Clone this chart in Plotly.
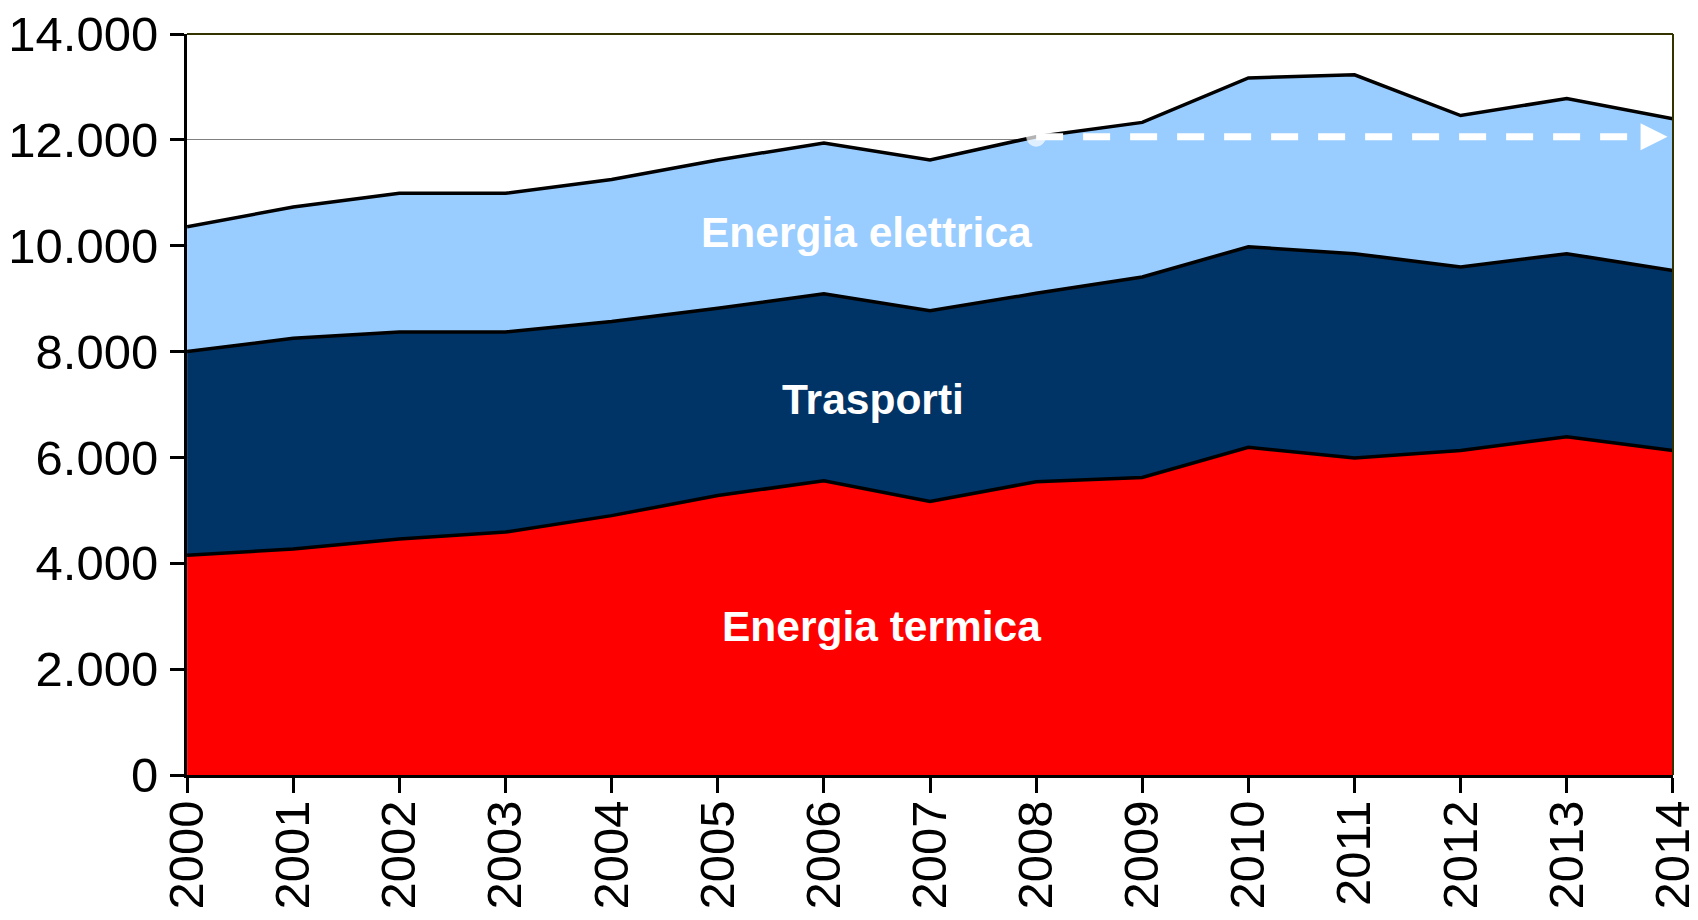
import plotly.graph_objects as go

# Consumi per settore
anni = list(range(2000, 2015))
energia_termica = [4150, 4270, 4460, 4590, 4900, 5280, 5560, 5170, 5540, 5620, 6190, 5990, 6130, 6390, 6130]
trasporti = [3850, 3980, 3910, 3780, 3670, 3540, 3530, 3600, 3560, 3790, 3790, 3860, 3470, 3460, 3400]
energia_elettrica = [2360, 2480, 2620, 2620, 2680, 2800, 2850, 2850, 2960, 2920, 3190, 3380, 2860, 2930, 2870]

y_ticks = list(range(0, 14001, 2000))
anno_riferimento = 2008

FONT = "Liberation Sans, Arial, sans-serif"

serie = [
    ("Energia termica", energia_termica, "#FF0000"),
    ("Trasporti", trasporti, "#003366"),
    ("Energia elettrica", energia_elettrica, "#99CCFF"),
]

fig = go.Figure()
for nome, valori, colore in serie:
    fig.add_trace(go.Scatter(
        x=anni, y=valori, name=nome, mode="lines",
        stackgroup="uno", fillcolor=colore,
        line=dict(color="black", width=3.5),
        showlegend=False, hoverinfo="x+y+name",
    ))

# livello totale nel 2008, proiettato fino all'ultimo anno
idx = anni.index(anno_riferimento)
totale_rif = energia_termica[idx] + trasporti[idx] + energia_elettrica[idx]

fig.add_trace(go.Scatter(
    x=[anno_riferimento, anni[-1] - 0.2], y=[totale_rif, totale_rif],
    mode="lines+markers",
    line=dict(color="white", width=7, dash="27px,20px"),
    marker=dict(size=[19, 0], color="white", symbol="circle"),
    showlegend=False, hoverinfo="skip", cliponaxis=False,
))

fig.add_annotation(
    x=anni[-1] - 0.05, y=totale_rif, ax=anni[-1] - 0.3, ay=totale_rif,
    xref="x", yref="y", axref="x", ayref="y",
    text="", showarrow=True, arrowhead=2, arrowsize=0.9,
    arrowwidth=6, arrowcolor="white",
)

# etichette delle aree
etichette = [
    ("Energia elettrica", 2006.40, 10245),
    ("Trasporti", 2006.46, 7100),
    ("Energia termica", 2006.54, 2815),
]
for testo, xa, ya in etichette:
    fig.add_annotation(
        x=xa, y=ya, text="<b>" + testo + "</b>", showarrow=False,
        font=dict(family=FONT, size=42.5, color="white"),
    )

# cornice superiore e destra
fig.add_shape(type="line", xref="paper", yref="paper", x0=0, x1=1, y0=1, y1=1,
              line=dict(color="#333300", width=2), layer="above")
fig.add_shape(type="line", xref="paper", yref="paper", x0=1, x1=1, y0=0, y1=1,
              line=dict(color="#333300", width=2), layer="above")

# la pagina ha 8px di margine: la figura e' ridotta di conseguenza
fig.update_layout(
    width=1690, height=912,
    margin=dict(l=179, r=25, t=26, b=145),
    paper_bgcolor="white", plot_bgcolor="white",
    separators=",.",
    font=dict(family=FONT, color="black"),
)

fig.update_xaxes(
    range=[anni[0] - 0.001, anni[-1] + 0.001], tickmode="array", tickvals=anni,
    ticktext=[str(a) for a in anni], tickangle=-90, automargin=False,
    ticklabeloverflow="allow",
    showgrid=False, zeroline=False,
    showline=True, linecolor="black", linewidth=3,
    ticks="outside", ticklen=15, tickwidth=3, tickcolor="black",
    ticklabelstandoff=-12,
    tickfont=dict(family=FONT, size=49, color="black"),
)
fig.update_yaxes(
    range=[0, 14000], tickmode="array", tickvals=y_ticks, tickformat=",d",
    automargin=False, ticklabeloverflow="allow",
    showgrid=True, gridcolor="#808080", gridwidth=1, zeroline=False,
    showline=True, linecolor="black", linewidth=3,
    ticks="outside", ticklen=14, tickwidth=3, tickcolor="black",
    ticklabelstandoff=2,
    tickfont=dict(family=FONT, size=49, color="black"),
)

fig.write_html("out.html")
